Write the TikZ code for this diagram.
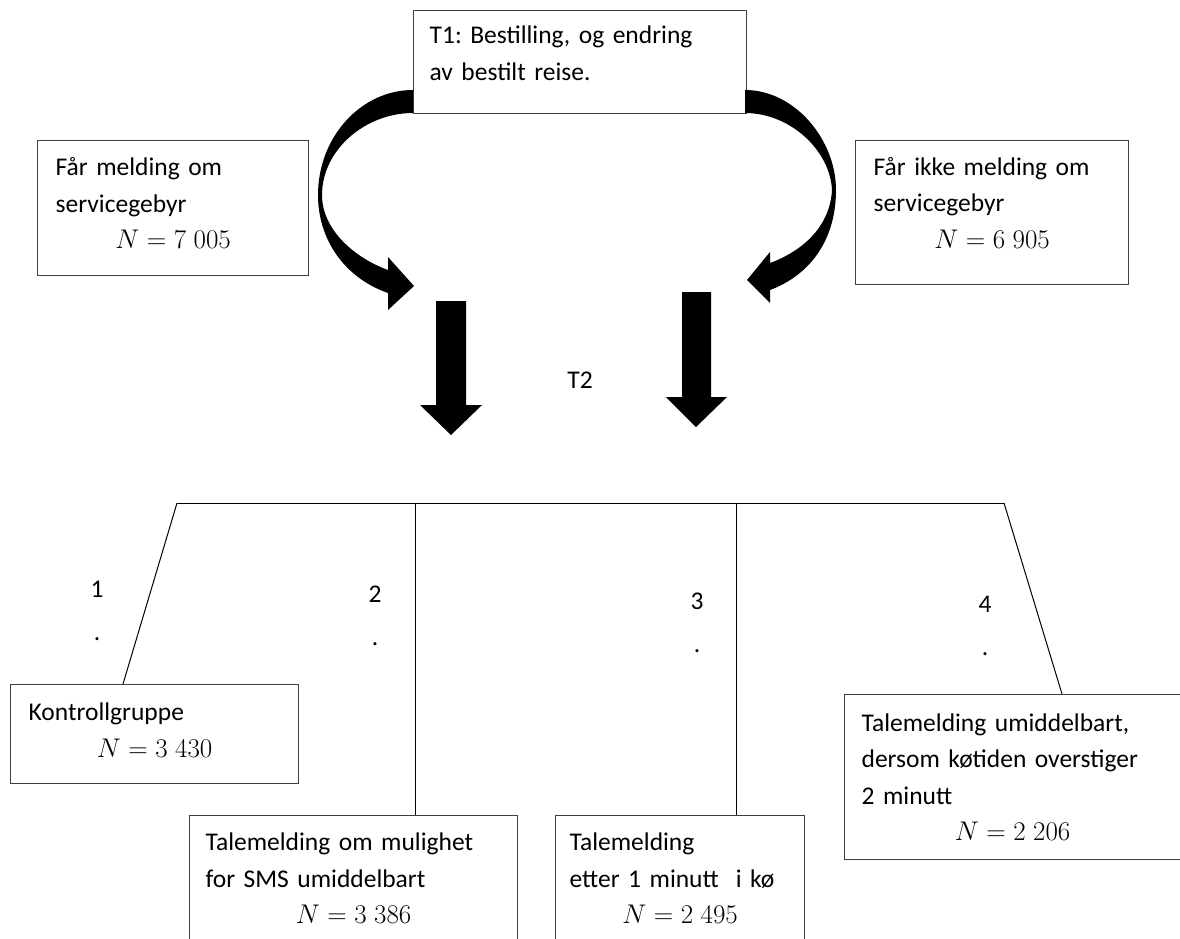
\RequirePackage{fix-cm}
\documentclass[tikz,border=0pt]{standalone}
\usepackage{fontspec}
\setmainfont{Carlito}
\usetikzlibrary{calc}
\definecolor{boxline}{RGB}{64, 64, 64}
\newcommand{\nline}[2][0pt]{\hspace*{\fill}{\fontsize{27}{36.5}\selectfont$N = #2$}\hspace*{\fill}\hspace*{#1}\mbox{}}
\newcommand{\lift}[1]{\rule[-#1]{0pt}{#1}}

\begin{document}
\frenchspacing
\begin{tikzpicture}[x=1pt, y=-1pt,
  font=\fontsize{25.5}{36.5}\selectfont,
  box/.style={draw=boxline, line width=1.3pt, rectangle, anchor=north west, align=left, inner ysep=0pt},
  branch/.style={line width=1pt},
  blackarrow/.style={fill=black, draw=none}]
  \useasboundingbox (0,0) rectangle (1180,938);
  \clip (0,0) rectangle (1180,938);

  % top part: booking and the two groups
  \node[box, inner xsep=16pt, text width=301pt, minimum height=103pt] (t1) at (413,10)
    {T1: Bestilling, og endring\\ av bestilt reise.\lift{18pt}};
  \node[box, inner xsep=18pt, text width=235pt, minimum height=135pt] (melding) at (37,140)
    {Får melding om\\ servicegebyr\\ \nline{7\;005}\lift{10pt}};
  \node[box, inner xsep=18pt, text width=237pt, minimum height=144pt] (ikkemelding) at (855,140)
    {Får ikke melding om\\ servicegebyr\\ \nline{6\;905}\lift{20pt}};

  % curved arrows out of T1
  \fill[blackarrow] (413,90) .. controls (361,90) and (318,137) .. (318,195)
    .. controls (318,240) and (345,278) .. (388,293)
    -- (388,310) -- (414,286) -- (388,257) -- (388,270)
    .. controls (355,258) and (322,230) .. (322,195)
    .. controls (322,150) and (365,113) .. (413,113) -- cycle;
  \fill[blackarrow] (745,90) .. controls (795,90) and (836,140) .. (836,190)
    .. controls (836,240) and (810,275) .. (770,290)
    -- (770,303) -- (747,280) -- (770,252) -- (770,263)
    .. controls (805,250) and (830,225) .. (832,190)
    .. controls (830,150) and (790,113) .. (745,113) -- cycle;

  % straight arrows down to T2
  \fill[blackarrow] (436,301) -- (466,301) -- (466,405) -- (482,405) -- (451,435)
    -- (420,405) -- (436,405) -- cycle;
  \fill[blackarrow] (682,292) -- (711,292) -- (711,397) -- (727,397) -- (696,427)
    -- (666,397) -- (682,397) -- cycle;
  \node (t2) at (580,380) {T2};

  % the four treatment groups
  \node[box, inner xsep=18pt, text width=252pt, minimum height=99pt] (kontroll) at (10,684)
    {Kontrollgruppe\\ \nline{3\;430}\lift{8pt}};
  \node[box, inner xsep=16pt, text width=296pt, minimum height=125pt] (sms) at (189,815)
    {Talemelding om mulighet\\ for SMS umiddelbart\\ \nline{3\;386}};
  \node[box, inner xsep=14pt, text width=221pt, minimum height=125pt] (ett) at (555,815)
    {Talemelding\\ etter 1 minutt~ i kø\\ \nline{2\;495}};
  \node[box, inner xsep=17pt, text width=340pt, minimum height=165pt] (umid) at (844,694)
    {Talemelding umiddelbart,\\ dersom køtiden overstiger\\ 2 minutt\\ \nline[38pt]{2\;206}};

  % branches
  \coordinate (busL) at (177,503);
  \coordinate (busR) at (1004,503);
  \coordinate (bus2) at (415,503);
  \coordinate (bus3) at (736,503);
  \draw[branch] (busL) -- (busR);
  \draw[branch] (busL) -- ($(kontroll.north west)+(113,0)$);
  \draw[branch] (bus2) -- (bus2 |- sms.north);
  \draw[branch] (bus3) -- (bus3 |- ett.north);
  \draw[branch] (busR) -- ($(umid.north west)+(218,0)$);

  \foreach \n/\x/\y in {1/97/590, 2/375/595, 3/697/602, 4/985/605}
    \node[align=center] (num\n) at (\x,\y+21) {\n\\[6pt].};
\end{tikzpicture}
\end{document}
